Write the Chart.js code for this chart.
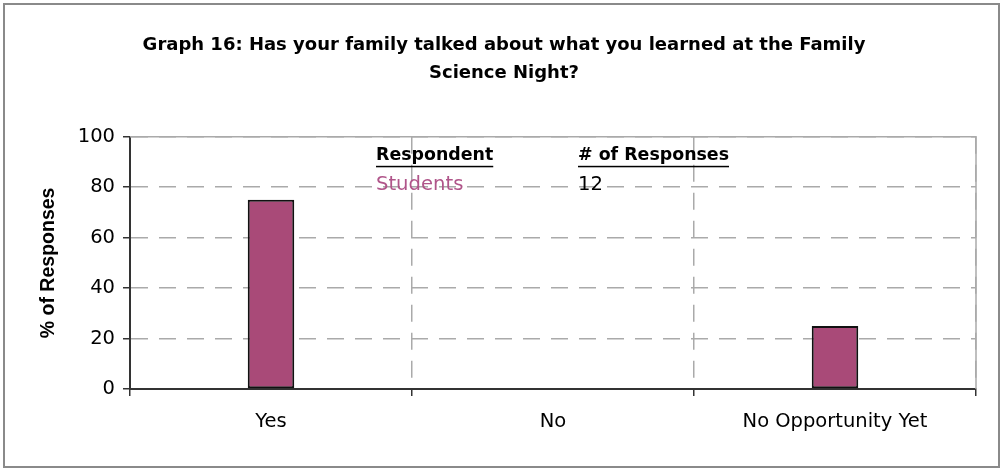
<!DOCTYPE html>
<html>
<head>
<meta charset="utf-8">
<script src="https://cdn.jsdelivr.net/npm/chart.js@4.4.1/dist/chart.umd.min.js"></script>
<style>
  html, body { margin: 0; padding: 0; background: #fff; }
  #wrap { width: 1003px; height: 471px; position: relative; }
</style>
</head>
<body>
<div id="wrap"><canvas id="canvas" width="1003" height="471"></canvas></div>
<script>
  //-----------------------
  // - GRAPH 16 DATA -
  //-----------------------
  const titleLines = ['Graph 16: Has your family talked about what you learned at the Family', 'Science Night?'];
  const categories = ['Yes', 'No', 'No Opportunity Yet'];
  const percentValues = [75, 0, 25];
  const yTickMin = 0;
  const yTickMax = 100;
  const yTickStep = 20;
  const respondents = ['Students'];
  const responseCounts = [12];
  const legendHeaders = ['Respondent', '# of Responses'];

  const barColor = '#a94a78';
  const gridColor = '#aaaaaa';
  const axisColor = '#333333';

  // outer frame + plot border
  const framePlugin = {
    id: 'frame',
    beforeDraw(chart) {
      const c = chart.ctx;
      c.save();
      c.strokeStyle = '#8a8a8a';
      c.lineWidth = 2;
      c.strokeRect(4, 4, chart.width - 8, chart.height - 8);
      c.restore();
    },
    afterDatasetsDraw(chart) {
      const a = chart.chartArea;
      const c = chart.ctx;
      c.save();
      c.strokeStyle = gridColor;
      c.lineWidth = 1.5;
      c.beginPath();
      c.moveTo(a.left, a.top);
      c.lineTo(a.right, a.top);
      c.lineTo(a.right, a.bottom);
      c.stroke();
      c.restore();
    }
  };

  // the little respondent table inside the plot
  const respondentTable = {
    id: 'respondentTable',
    afterDraw(chart) {
      const a = chart.chartArea;
      const c = chart.ctx;
      const col1 = a.left + 246;
      const col2 = a.left + 448;
      const row1 = a.top + 19;
      c.save();
      c.textBaseline = 'middle';
      c.textAlign = 'left';
      c.font = 'bold 17.4px "DejaVu Sans"';
      c.fillStyle = '#000';
      [col1, col2].forEach((x, i) => {
        c.fillText(legendHeaders[i], x, row1);
        const w = c.measureText(legendHeaders[i]).width;
        c.fillRect(x, row1 + 10, w, 1.5);
      });
      c.font = '19.6px "DejaVu Sans"';
      respondents.forEach((r, i) => {
        const y = row1 + 29 * (i + 1);
        c.fillStyle = '#b0558a';
        c.fillText(r, col1, y);
        c.fillStyle = '#000';
        c.fillText(String(responseCounts[i]), col2, y);
      });
      c.restore();
    }
  };

  const ctx = document.getElementById('canvas').getContext('2d');

  const myChart = new Chart(ctx, {
    type: 'bar',
    data: {
      labels: categories,
      datasets: [{
        label: 'Students',
        data: percentValues,
        backgroundColor: barColor,
        borderColor: '#111',
        borderWidth: 2,
        borderSkipped: false,
        categoryPercentage: 1,
        barPercentage: 0.165
      }]
    },
    plugins: [framePlugin, respondentTable],
    options: {
      responsive: false,
      animation: false,
      devicePixelRatio: 1,
      layout: { padding: { top: 0, right: 27, bottom: 0, left: 32 } },
      plugins: {
        legend: { display: false },
        tooltip: { enabled: false },
        title: {
          display: true,
          text: titleLines,
          color: '#000',
          font: { family: '"DejaVu Sans"', size: 18, weight: 'bold', lineHeight: 1.55 },
          padding: { top: 31, bottom: 50 }
        }
      },
      scales: {
        x: {
          afterFit(scale) { scale.height = 82; },
          grid: {
            offset: true,
            color: gridColor,
            lineWidth: 1.5,
            tickLength: 7,
            tickColor: axisColor,
            tickBorderDash: [],
            tickWidth: 1.5
          },
          border: { color: axisColor, width: 2, dash: [17, 11] },
          ticks: {
            color: '#000',
            padding: 14,
            font: { family: '"DejaVu Sans"', size: 19.5 }
          }
        },
        y: {
          min: yTickMin,
          max: yTickMax,
          afterFit(scale) { scale.width = 98; },
          grid: {
            color: gridColor,
            lineWidth: 1.5,
            tickLength: 7,
            tickColor: axisColor,
            tickBorderDash: [],
            tickWidth: 1.5
          },
          border: { color: axisColor, width: 2, dash: [17, 11] },
          ticks: {
            stepSize: yTickStep,
            color: '#000',
            padding: 8,
            font: { family: '"DejaVu Sans"', size: 19.5 }
          },
          title: {
            display: true,
            text: '% of Responses',
            color: '#000',
            font: { family: '"Liberation Sans"', size: 19.5, weight: 'bold' },
            padding: { top: 5, bottom: 0 }
          }
        }
      }
    }
  });

  //---------------------------
  // - END GRAPH 16 -
  //---------------------------
</script>
</body>
</html>
